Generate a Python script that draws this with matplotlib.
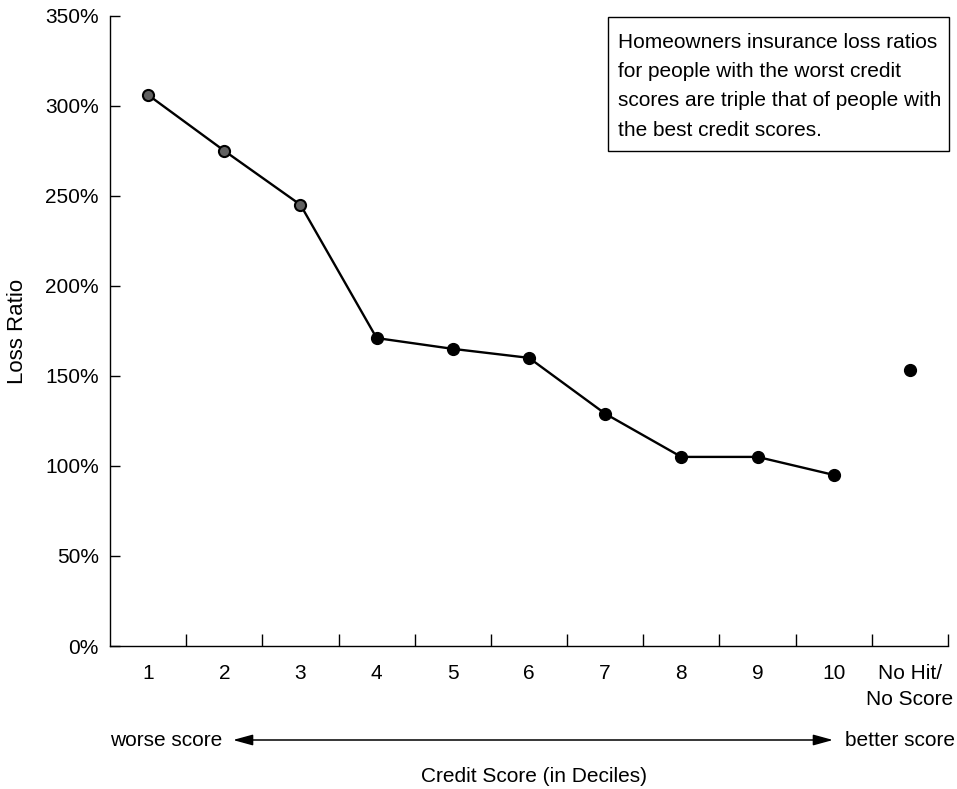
import numpy as np
import matplotlib.pyplot as plt
from matplotlib.patches import Rectangle
from matplotlib.ticker import FixedLocator

plt.rcParams['font.family'] = ['Liberation Sans', 'DejaVu Sans']

# data
deciles = ['1', '2', '3', '4', '5', '6', '7', '8', '9', '10']
loss_ratio = [306, 275, 245, 171, 165, 160, 129, 105, 105, 95]
nohit_label = 'No Hit/\nNo Score'
nohit_ratio = 153
yticks = [0, 50, 100, 150, 200, 250, 300, 350]

note = ["Homeowners insurance loss ratios",
        "for people with the worst credit",
        "scores are triple that of people with",
        "the best credit scores."]

FS = 15

fig = plt.figure(figsize=(9.57, 7.89), dpi=100)
ax = fig.add_axes([110/957, 1 - 646/789, (948-110)/957, (646-15.7)/789])

x = np.arange(len(deciles))
ax.plot(x, loss_ratio, color='k', lw=1.7, zorder=2)
# first three markers look like rings in the scan
ax.plot(x[:3], loss_ratio[:3], 'o', ms=8, mfc='#606060', mec='k', mew=1.5, zorder=3)
ax.plot(x[3:], loss_ratio[3:], 'o', ms=8.5, color='k', zorder=3)
ax.plot([len(deciles)], [nohit_ratio], 'o', ms=8.5, color='k', zorder=3)

ax.set_xlim(-0.5, len(deciles) + 0.5)
ax.set_ylim(0, 350)

labels = deciles + [nohit_label]
ax.set_xticks(np.arange(len(labels)))
ax.set_xticklabels(labels, fontsize=FS, va='top', linespacing=1.45)
ax.tick_params(axis='x', which='major', length=0, pad=13)
ax.xaxis.set_minor_locator(FixedLocator(np.arange(0.5, len(labels), 1.0)))
ax.tick_params(axis='x', which='minor', direction='in', length=9, width=1.0)

ax.set_yticks(yticks)
ax.set_yticklabels([f'{v}%' for v in yticks], fontsize=FS)
ax.tick_params(axis='y', direction='in', length=7, width=1.0, pad=8)

for s in ['top', 'right']:
    ax.spines[s].set_visible(False)
for s in ['left', 'bottom']:
    ax.spines[s].set_linewidth(1.0)

fig.text(18/957, 1 - 331/789, 'Loss Ratio', fontsize=16, rotation=90,
         ha='center', va='center')

# direction arrow under the axis
fig.text(110/957, 1 - 740/789, 'worse score', fontsize=FS, ha='left', va='center')
fig.text(955/957, 1 - 740/789, 'better score', fontsize=FS, ha='right', va='center')
ax.annotate('', xy=(233/957, 1 - 740/789), xytext=(833/957, 1 - 740/789),
            xycoords='figure fraction', textcoords='figure fraction',
            arrowprops=dict(arrowstyle='<|-|>,head_length=0.8,head_width=0.22',
                            color='k', lw=1.1, mutation_scale=15,
                            shrinkA=0, shrinkB=0))
fig.text(534/957, 1 - 776/789, 'Credit Score (in Deciles)', fontsize=FS,
         ha='center', va='center')

# note box
fig.patches.append(Rectangle((608/957, 1 - 151/789), (949-608)/957, (151-17)/789,
                             transform=fig.transFigure, fc='white', ec='k', lw=1.0))
for i, line in enumerate(note):
    fig.text(618/957, 1 - (42 + 29.4*i)/789, line, fontsize=FS,
             ha='left', va='center')

fig.savefig('out.png', dpi=100)
